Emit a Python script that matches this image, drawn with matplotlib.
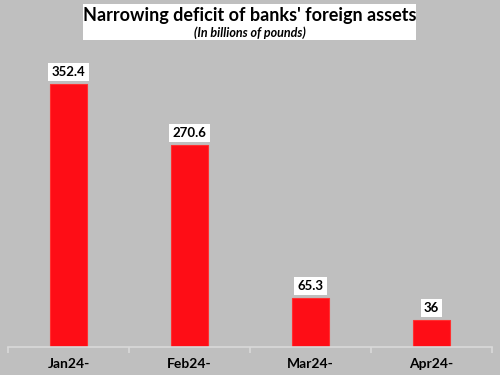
import matplotlib
matplotlib.use('Agg')
import matplotlib.pyplot as plt
import numpy as np

categories = ['Jan24-', 'Feb24-', 'Mar24-', 'Apr24-']
values = [352.4, 270.6, 65.3, 36]

plt.rcParams['font.family'] = ['Lato', 'DejaVu Sans']

bg = '#bfbfbf'
fig = plt.figure(figsize=(5, 3.75), dpi=100, facecolor=bg)
ax = fig.add_axes([0.016, 0.075, 0.968, 0.765], facecolor=bg)

x = np.arange(len(categories))
ax.bar(x, values, width=0.31, color='#fe0d16', edgecolor='#ff3030', linewidth=0.8, zorder=2)

for xi, v in zip(x, values):
    ax.annotate(f'{v:g}', (xi, v), xytext=(0, 4.5), textcoords='offset points',
                ha='center', va='bottom', fontsize=9.5, fontweight='bold', color='black',
                bbox=dict(boxstyle='square,pad=0.25', fc='white', ec='none'))

ax.set_xlim(-0.5, len(categories) - 0.5)
ax.set_ylim(0, 385)
ax.set_yticks([])
for s in ['top', 'right', 'left']:
    ax.spines[s].set_visible(False)
ax.spines['bottom'].set_color('#d9d9d9')
ax.spines['bottom'].set_linewidth(1.2)

# ticks between categories
ax.set_xticks(np.arange(-0.5, len(categories)), minor=True)
ax.tick_params(axis='x', which='minor', length=4, color='#d9d9d9', width=1.2)
ax.set_xticks(x)
ax.set_xticklabels(categories, fontsize=10, fontweight='bold')
ax.tick_params(axis='x', which='major', length=0, pad=8)

fig.text(0.5, 0.958, "Narrowing deficit of banks' foreign assets", ha='center', va='center',
         fontsize=13, fontweight='bold', color='black')
fig.text(0.5, 0.912, '(In billions of pounds)', ha='center', va='center',
         fontsize=9, fontweight='bold', fontstyle='italic', color='black')
fig.patches.append(plt.Rectangle((0.166, 0.893), 0.666, 0.096, transform=fig.transFigure,
                                 facecolor='white', edgecolor='none', zorder=0))

fig.savefig('out.png', dpi=100, facecolor=bg)
